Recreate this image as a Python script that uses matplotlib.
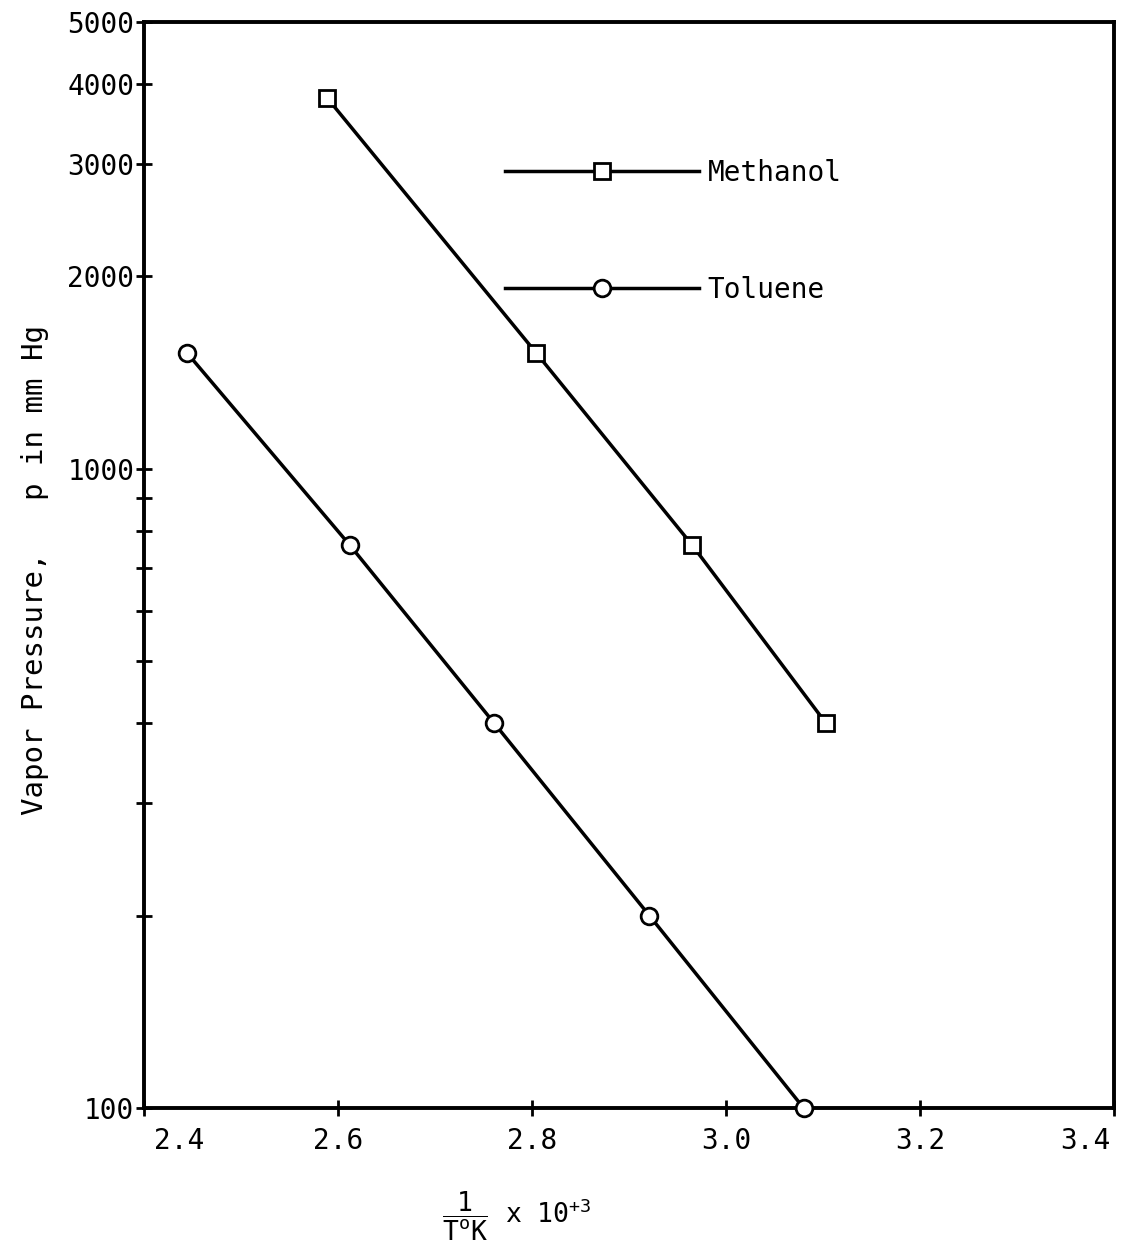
import matplotlib
matplotlib.use('Agg')
import matplotlib.pyplot as plt
import matplotlib.transforms as mtransforms

# 1/T x 10^3 and vapor pressure (mm Hg)
methanol_x = [2.589, 2.804, 2.965, 3.103]
methanol_p = [3800, 1520, 760, 400]
toluene_x = [2.444, 2.612, 2.761, 2.921, 3.080]
toluene_p = [1520, 760, 400, 200, 100]

x_ticks = [2.4, 2.6, 2.8, 3.0, 3.2, 3.4]
x_ticklabels = ['2.4', '2.6', '2.8', '3.0', '3.2', '3.4']
y_major = [100, 1000, 2000, 3000, 4000, 5000]
y_major_labels = ['100', '1000', '2000', '3000', '4000', '5000']
y_minor = [200, 300, 400, 500, 600, 700, 800, 900]

plt.rcParams['font.family'] = ['DejaVu Sans Mono']
plt.rcParams['mathtext.fontset'] = 'custom'
plt.rcParams['mathtext.rm'] = 'DejaVu Sans Mono'
plt.rcParams['mathtext.it'] = 'DejaVu Sans Mono'
plt.rcParams['mathtext.bf'] = 'DejaVu Sans Mono:bold'

fig = plt.figure(figsize=(11.28, 12.51), dpi=100)
ax = fig.add_axes([0.1277, 0.1143, 0.8599, 0.8681])

ax.plot(methanol_x, methanol_p, color='black', lw=2.5, marker='s', ms=11,
        mfc='white', mec='black', mew=2, label='Methanol', zorder=3, clip_on=False)
ax.plot(toluene_x, toluene_p, color='black', lw=2.5, marker='o', ms=12,
        mfc='white', mec='black', mew=2, label='Toluene', zorder=3, clip_on=False)

ax.set_yscale('log')
ax.set_xlim(2.4, 3.4)
ax.set_ylim(100, 5000)

ax.set_yticks(y_major)
ax.set_yticklabels(y_major_labels)
ax.set_yticks(y_minor, minor=True)
ax.set_yticklabels([], minor=True)
ax.set_xticks(x_ticks)
ax.set_xticklabels(x_ticklabels)

ax.tick_params(axis='both', which='both', direction='inout', length=12,
               width=2, labelsize=20, colors='black')
ax.tick_params(axis='y', which='both', pad=1)
ax.tick_params(axis='x', which='both', pad=8)

for s in ax.spines.values():
    s.set_linewidth(2.8)

# end labels were typed inward of the corner ticks
labels = ax.get_xticklabels()
labels[0].set_transform(labels[0].get_transform() +
                        mtransforms.ScaledTranslation(0.35, 0, fig.dpi_scale_trans))
labels[-1].set_transform(labels[-1].get_transform() +
                         mtransforms.ScaledTranslation(-0.29, 0, fig.dpi_scale_trans))

ax.legend(loc='center left', bbox_to_anchor=(0.372, 0.807), frameon=False,
          fontsize=20, handlelength=7, handletextpad=0.3, labelspacing=3.2,
          numpoints=1, borderpad=0, borderaxespad=0)

fig.text(0.031, 0.544, 'Vapor Pressure,   p in mm Hg', rotation=90,
         ha='center', va='center', fontsize=21)
fig.text(0.458, 0.028, r'$\dfrac{1}{\mathrm{T^oK}}$ x 10$^{+3}$',
         ha='center', va='center', fontsize=19)

plt.savefig('out.png', dpi=100)
